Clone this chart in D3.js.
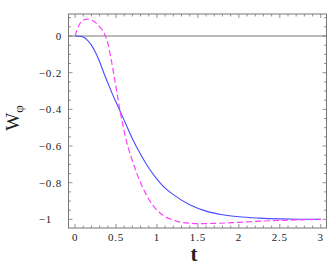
<!DOCTYPE html>
<html><head><meta charset="utf-8">
<script src="https://cdn.jsdelivr.net/npm/d3@7"></script>
<style>
html,body{margin:0;padding:0;background:#fff;}
svg{display:block;}
text{font-family:"Liberation Serif","DejaVu Serif",serif;fill:#222;}
</style></head>
<body>
<svg id="c" width="328" height="272"></svg>
<script>
const tBlue = [0,0.05,0.1,0.15,0.2,0.25,0.3,0.35,0.4,0.45,0.5,0.55,0.6,0.7,0.8,0.9,1.0,1.1,1.2,1.4,1.6,1.8,2.0,2.25,2.5,2.75,3.0];
const wBlue = [0,-0.001,-0.006,-0.022,-0.05,-0.09,-0.14,-0.2,-0.255,-0.31,-0.36,-0.41,-0.46,-0.56,-0.645,-0.72,-0.78,-0.83,-0.865,-0.92,-0.955,-0.975,-0.986,-0.993,-0.997,-0.999,-1.0];
const tMag = [0,0.03,0.06,0.1,0.15,0.2,0.25,0.3,0.35,0.4,0.45,0.5,0.55,0.6,0.65,0.7,0.75,0.8,0.9,1.0,1.1,1.2,1.3,1.4,1.5,1.7,2.0,2.3,2.6,3.0];
const wMag = [0,0.04,0.068,0.086,0.092,0.087,0.073,0.05,0.02,-0.04,-0.15,-0.28,-0.41,-0.52,-0.61,-0.68,-0.745,-0.80,-0.89,-0.95,-0.985,-1.004,-1.016,-1.021,-1.023,-1.022,-1.016,-1.009,-1.004,-1.0];
const xTicks = [0,0.5,1,1.5,2,2.5,3];
const xTickLabels = ["0","0.5","1","1.5","2","2.5","3"];
const yTicks = [0,-0.2,-0.4,-0.6,-0.8,-1];
const yTickLabels = ["0","\u22120.2","\u22120.4","\u22120.6","\u22120.8","\u22121"];

const svg = d3.select("#c");
const L=68.5, R=326.5, T=14, B=228;
const x = d3.scaleLinear().domain([-0.08,3.07]).range([L,R]);
const y = d3.scaleLinear().domain([0.12,-1.047]).range([T,B]);
const frameColor = "#777";

// zero line
svg.append("line").attr("x1",L).attr("x2",R).attr("y1",y(0)).attr("y2",y(0))
  .attr("stroke","#777").attr("stroke-width",1);

// ticks (minor + major) on all four sides, inward
const xMinor = d3.range(0,3.001,0.1);
const yMinor = d3.range(-1.0,0.101,0.05);
const g = svg.append("g").attr("stroke",frameColor).attr("stroke-width",0.8);
xMinor.forEach(v=>{
  const major = Math.abs(v*2-Math.round(v*2))<1e-6;
  const len = major?4:2.5;
  g.append("line").attr("x1",x(v)).attr("x2",x(v)).attr("y1",B).attr("y2",B-len);
  g.append("line").attr("x1",x(v)).attr("x2",x(v)).attr("y1",T).attr("y2",T+len);
});
yMinor.forEach(v=>{
  const major = Math.abs(v*5-Math.round(v*5))<1e-6;
  const len = major?4:2.5;
  g.append("line").attr("x1",L).attr("x2",L+len).attr("y1",y(v)).attr("y2",y(v));
  g.append("line").attr("x1",R).attr("x2",R-len).attr("y1",y(v)).attr("y2",y(v));
});

// frame
svg.append("rect").attr("x",L).attr("y",T).attr("width",R-L).attr("height",B-T)
  .attr("fill","none").attr("stroke",frameColor).attr("stroke-width",1);

// curves
const line = d3.line().curve(d3.curveMonotoneX);
svg.append("path").datum(tBlue.map((t,i)=>[x(t),y(wBlue[i])]))
  .attr("d",line).attr("fill","none").attr("stroke","#4a4aff").attr("stroke-width",1.1);
svg.append("path").datum(tMag.map((t,i)=>[x(t),y(wMag[i])]))
  .attr("d",line).attr("fill","none").attr("stroke","#ff40ff").attr("stroke-width",1.2)
  .attr("stroke-dasharray","6,3");

// tick labels
xTicks.forEach((v,i)=>{
  svg.append("text").attr("x",x(v)).attr("y",241).attr("text-anchor","middle")
    .attr("font-size",11).attr("letter-spacing",0.8).text(xTickLabels[i]);
});
yTicks.forEach((v,i)=>{
  svg.append("text").attr("x", i===yTicks.length-1?52:62).attr("y",y(v)+4)
    .attr("text-anchor","end").attr("font-size",11).attr("letter-spacing",0.8).text(yTickLabels[i]);
});

// axis titles
const yl = svg.append("text").attr("transform","translate(19,118) rotate(-90)")
  .attr("text-anchor","middle").attr("font-size",19);
yl.append("tspan").text("W");
yl.append("tspan").attr("font-size",13).attr("dy",4).text("\u03c6");
svg.append("text").attr("x",194).attr("y",261).attr("text-anchor","middle")
  .attr("font-size",21).attr("font-weight","bold").text("t");
</script>
</body></html>
